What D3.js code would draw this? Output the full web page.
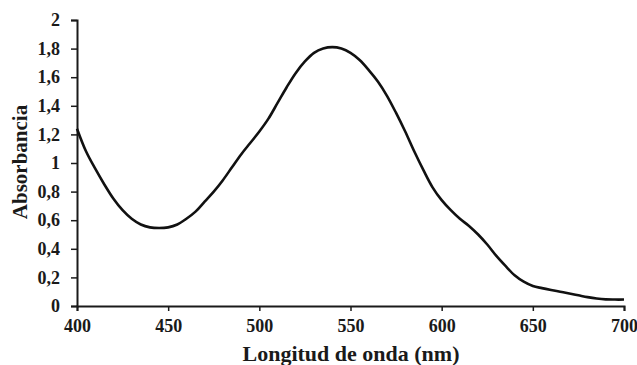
<!DOCTYPE html>
<html>
<head>
<meta charset="utf-8">
<script src="https://cdn.jsdelivr.net/npm/d3@7/dist/d3.min.js"></script>
<style>
  html, body { margin: 0; padding: 0; background: #fff; }
  svg { display: block; }
  text { font-family: "Liberation Serif", "Times New Roman", serif; font-weight: bold; fill: #1a1a1a; }
</style>
</head>
<body>
<svg id="chart" width="637" height="365"></svg>
<script>
const wavelengths = [400,405,410,415,420,425,430,435,440,445,450,455,460,465,470,475,480,485,490,495,
  500,505,510,515,520,525,530,535,540,545,550,555,560,565,570,575,580,585,590,595,
  600,605,610,615,620,625,630,635,640,645,650,655,660,665,670,675,680,685,690,695,700];
const absorbance = [1.24,1.08,0.96,0.85,0.75,0.67,0.61,0.57,0.55,0.545,0.55,0.57,0.61,0.66,0.73,0.80,0.88,0.97,1.06,1.14,
  1.22,1.31,1.42,1.53,1.63,1.71,1.77,1.80,1.81,1.80,1.77,1.72,1.65,1.57,1.47,1.35,1.22,1.08,0.95,0.83,
  0.74,0.67,0.61,0.56,0.50,0.43,0.35,0.28,0.215,0.17,0.14,0.125,0.112,0.10,0.088,0.075,0.062,0.052,0.046,0.045,0.045];
const xTicks = [400,450,500,550,600,650,700];
const yTicks = [0,0.2,0.4,0.6,0.8,1,1.2,1.4,1.6,1.8,2];
const xTitle = "Longitud de onda (nm)";
const yTitle = "Absorbancia";

const svg = d3.select("#chart");
const mLeft = 77, mRight = 624, mTop = 20, mBottom = 306;

const x = d3.scaleLinear().domain([400,700]).range([mLeft, mRight]);
const y = d3.scaleLinear().domain([0,2]).range([mBottom, mTop]);

const fmt = v => String(+v.toFixed(1)).replace(".", ",");

const xAxis = svg.append("g").attr("transform", `translate(0,${mBottom})`)
  .call(d3.axisBottom(x).tickValues(xTicks).tickSize(5).tickPadding(8).tickFormat(d3.format("d")));
const yAxis = svg.append("g").attr("transform", `translate(${mLeft},0)`)
  .call(d3.axisLeft(y).tickValues(yTicks).tickSize(6).tickPadding(11).tickFormat(fmt));

[xAxis, yAxis].forEach(g => {
  g.select(".domain").attr("stroke", "#1a1a1a").attr("stroke-width", 2);
  g.selectAll(".tick line").attr("stroke", "#1a1a1a").attr("stroke-width", 1.5);
  g.selectAll(".tick text").style("font-family", "'Liberation Serif', serif")
    .style("font-weight", "bold").style("font-size", "18px").attr("fill", "#1a1a1a");
});

const line = d3.line().x((d,i) => x(wavelengths[i])).y(d => y(d)).curve(d3.curveCatmullRom.alpha(0.5));
svg.append("path").datum(absorbance)
  .attr("d", line).attr("fill", "none").attr("stroke", "#111").attr("stroke-width", 2.6)
  .attr("stroke-linejoin", "round");

svg.append("text").attr("x", 351).attr("y", 361).attr("text-anchor", "middle")
  .style("font-size", "22px").text(xTitle);
svg.append("text").attr("transform", "translate(27,162) rotate(-90)").attr("text-anchor", "middle")
  .style("font-size", "21px").text(yTitle);
</script>
</body>
</html>
